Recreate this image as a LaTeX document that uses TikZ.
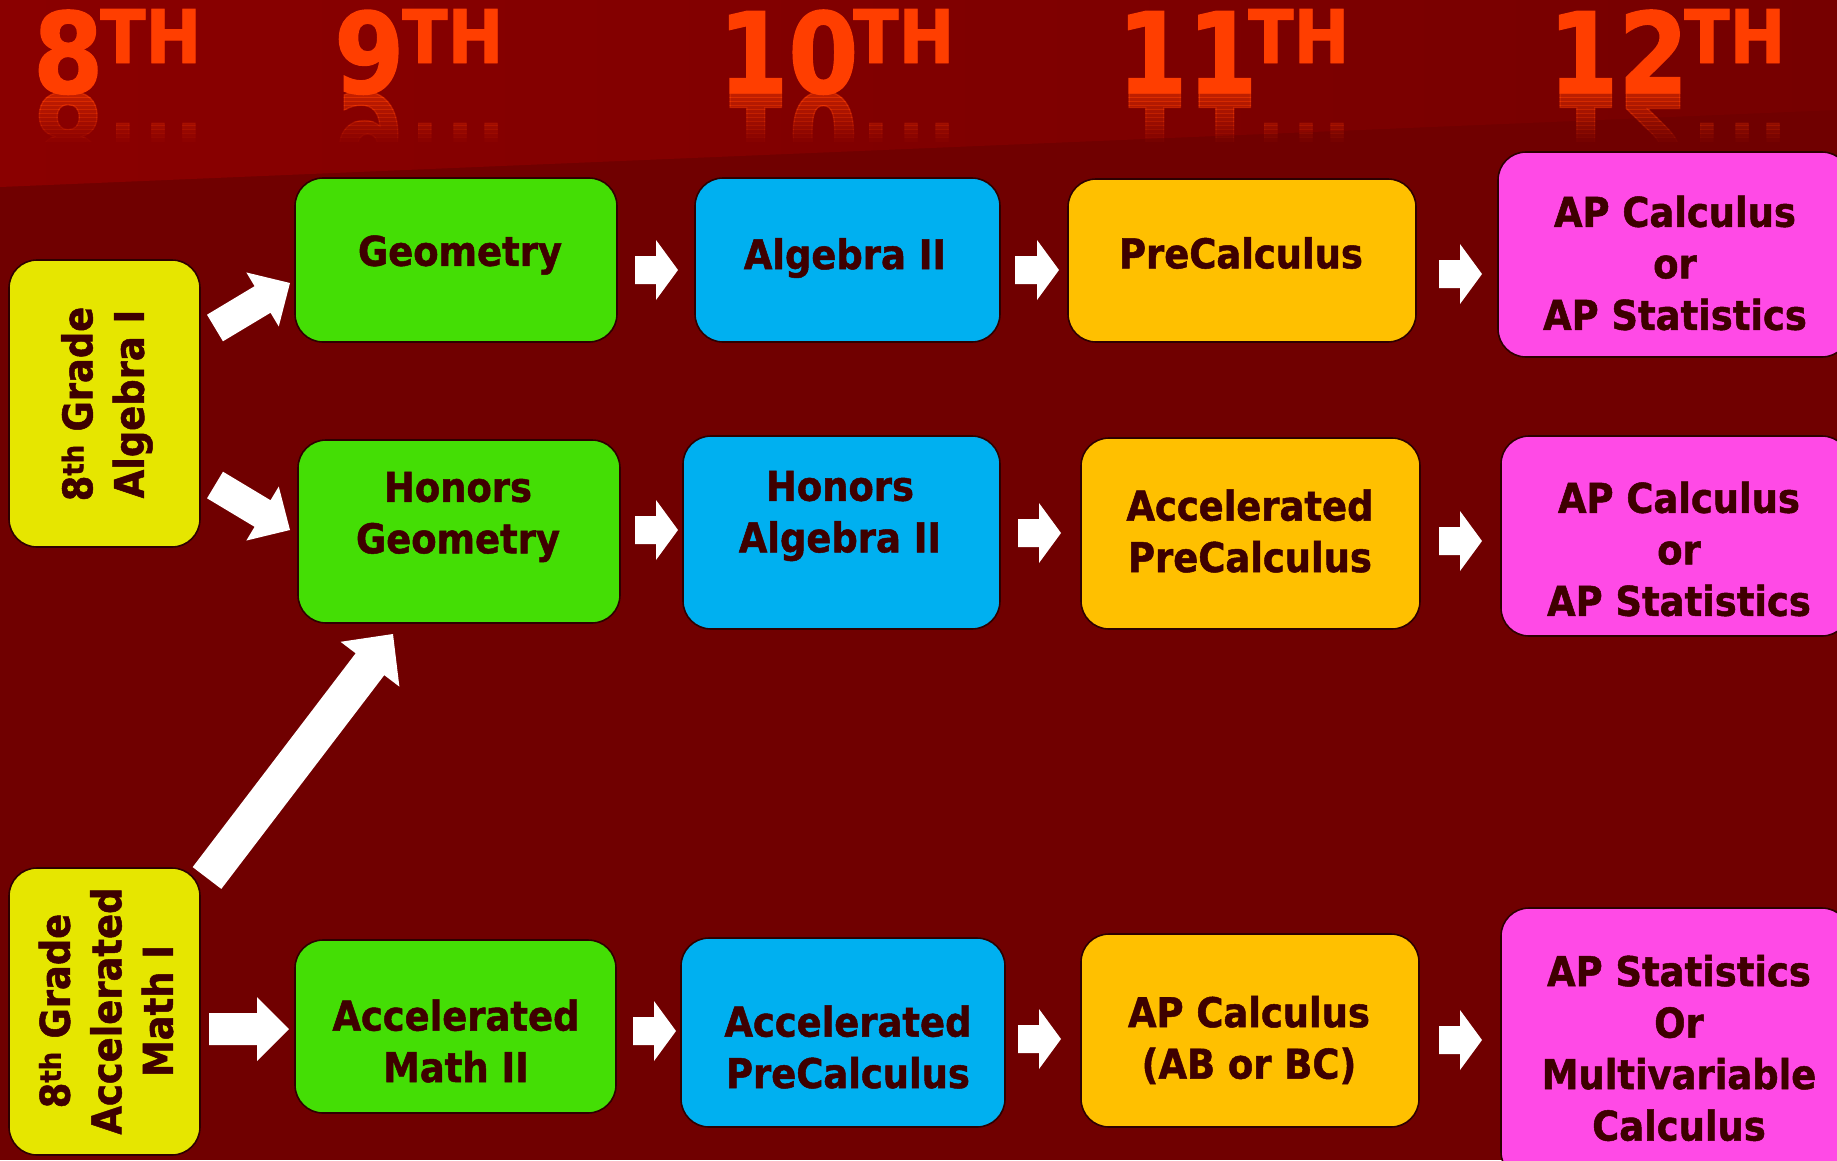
\documentclass[tikz,border=0pt]{standalone}
\usepackage{fontspec}
\setmainfont{DejaVu Sans Condensed}[BoldFont={DejaVu Sans Condensed Bold}, BoldFeatures={FakeBold=1.2}]
\usetikzlibrary{calc}
\definecolor{bgred}{RGB}{112,0,0}
\definecolor{bandL}{RGB}{138,0,0}
\definecolor{bandR}{RGB}{118,0,0}
\definecolor{ctext}{RGB}{62,0,0}
\definecolor{boxline}{RGB}{45,0,0}
\definecolor{cgreen}{RGB}{68,222,5}
\definecolor{cblue}{RGB}{0,176,240}
\definecolor{corange}{RGB}{255,192,0}
\definecolor{cpink}{RGB}{255,74,230}
\definecolor{cyellow}{RGB}{230,230,0}
\definecolor{hdrcol}{RGB}{255,62,0}
\newcommand\blockarrow[5]{%
  \path ($(#2)!#5!(#1)$) coordinate (bah);
  \fill[white] ($(#1)!#3!90:(#2)$) -- ($(bah)!#3!-90:(#1)$) -- ($(bah)!#4!-90:(#1)$)
    -- (#2) -- ($(bah)!#4!90:(#1)$) -- ($(bah)!#3!90:(#1)$) -- ($(#1)!#3!-90:(#2)$) -- cycle;
}
\newcommand\gradehdr[4]{%
  \node[hdr, anchor=base west] (#1) at (#2,93) {#3};
  \node[hdrs, anchor=base west] (#1th) at (#4,63) {TH};
  \foreach \k in {0,...,11}{%
    \pgfmathsetmacro\op{0.5*(1-\k/12)}%
    \begin{scope}
      \clip (#2-20,93+4*\k) rectangle (#4+130,97+4*\k);
      \begin{scope}[shift={(0,93)}, yscale=-1, transform shape]
        \node[hdr, anchor=base west, opacity=\op] at (#2,0) {#3};
        \node[hdrs, anchor=base west, opacity=\op] at (#4,-30) {TH};
      \end{scope}
    \end{scope}
  }%
}
\begin{document}
\begin{tikzpicture}[x=1pt,y=-1pt,
  box/.style={draw=boxline, line width=1.6pt, rounded corners=28pt, inner sep=0pt},
  txt/.style={text=ctext, font=\fontsize{41}{51.5}\selectfont\bfseries, align=center, inner sep=0pt},
  hdr/.style={text=hdrcol, font=\fontsize{112}{112}\selectfont\bfseries, inner sep=0pt},
  hdrs/.style={text=hdrcol, font=\fontsize{74}{74}\selectfont\bfseries, inner sep=0pt}]
\useasboundingbox (0,0) rectangle (1837,1160);
\clip (0,0) rectangle (1837,1160);
\fill[bgred] (0,0) rectangle (1837,1160);
\shade[left color=bandL, right color=bandR] (0,0) -- (1837,0) -- (1837,110) -- (0,187) -- cycle;

% headers
\gradehdr{h8}{33}{8}{100}
\gradehdr{h9}{334}{9}{402}
\gradehdr{h10}{718}{10}{853}
\gradehdr{h11}{1117}{11}{1248}
\gradehdr{h12}{1548}{12}{1684}

% boxes
\node[box, fill=cyellow, minimum width=191pt, minimum height=287pt] (y1) at (104.5,403.5) {};
\node[box, fill=cyellow, minimum width=191pt, minimum height=287pt] (y2) at (104.5,1011.5) {};
\node[box, fill=cgreen, minimum width=322pt, minimum height=164pt] (g1) at (456,260) {};
\node[box, fill=cgreen, minimum width=322pt, minimum height=183pt] (g2) at (459,531.5) {};
\node[box, fill=cgreen, minimum width=321pt, minimum height=173pt] (g3) at (455.5,1026.5) {};
\node[box, fill=cblue, minimum width=305pt, minimum height=164pt] (b1) at (847.5,260) {};
\node[box, fill=cblue, minimum width=317pt, minimum height=193pt] (b2) at (841.5,532.5) {};
\node[box, fill=cblue, minimum width=324pt, minimum height=189pt] (b3) at (843,1032.5) {};
\node[box, fill=corange, minimum width=348pt, minimum height=163pt] (o1) at (1242,260.5) {};
\node[box, fill=corange, minimum width=339pt, minimum height=191pt] (o2) at (1250.5,533.5) {};
\node[box, fill=corange, minimum width=338pt, minimum height=193pt] (o3) at (1250,1030.5) {};
\node[box, fill=cpink, minimum width=352pt, minimum height=205pt] (p1) at (1674,254.5) {};
\node[box, fill=cpink, minimum width=349pt, minimum height=200pt] (p2) at (1675.5,536) {};
\node[box, fill=cpink, minimum width=349pt, minimum height=272pt] (p3) at (1675.5,1044) {};

% texts
\node[txt, rotate=90] (y1t) at (107,404) {8\textsuperscript{th} Grade\\Algebra I};
\node[txt, rotate=90] (y2t) at (106,1011) {8\textsuperscript{th} Grade\\Accelerated\\Math I};
\node[txt] (g1t) at (460,255) {Geometry};
\node[txt] (g2t) at (458,517) {Honors\\Geometry};
\node[txt] (g3t) at (456,1041) {Accelerated\\Math II};
\node[txt] (b1t) at (845,258) {Algebra II};
\node[txt] (b2t) at (840,516) {Honors\\Algebra II};
\node[txt] (b3t) at (848,1047) {Accelerated\\PreCalculus};
\node[txt] (o1t) at (1241,253) {PreCalculus};
\node[txt] (o2t) at (1250,531) {Accelerated\\PreCalculus};
\node[txt] (o3t) at (1249,1040) {AP Calculus\\(AB or BC)};
\node[txt] (p1t) at (1675,263) {AP Calculus\\or\\AP Statistics};
\node[txt] (p2t) at (1679,549) {AP Calculus\\or\\AP Statistics};
\node[txt] (p3t) at (1679,1048) {AP Statistics\\Or\\Multivariable\\Calculus};

% arrow end points
\coordinate (a1s) at (635,270);  \coordinate (a1e) at (678,270);
\coordinate (a2s) at (1015,270); \coordinate (a2e) at (1059,270);
\coordinate (a3s) at (1439,274); \coordinate (a3e) at (1482,274);
\coordinate (a4s) at (635,530);  \coordinate (a4e) at (678,530);
\coordinate (a5s) at (1018,533); \coordinate (a5e) at (1061,533);
\coordinate (a6s) at (1439,541); \coordinate (a6e) at (1482,541);
\coordinate (a7s) at (633,1031); \coordinate (a7e) at (676,1031);
\coordinate (a8s) at (1018,1039); \coordinate (a8e) at (1061,1039);
\coordinate (a9s) at (1439,1040); \coordinate (a9e) at (1482,1040);
\coordinate (d1s) at (215,328);  \coordinate (d1e) at (290,283);
\coordinate (d2s) at (215,485);  \coordinate (d2e) at (290,530);
\coordinate (d3s) at (207,878);  \coordinate (d3e) at (393,634);
\coordinate (h1s) at (209,1029); \coordinate (h1e) at (289,1029);

\foreach \i in {1,...,9}{\blockarrow{a\i s}{a\i e}{14pt}{30pt}{22pt}}
\blockarrow{d1s}{d1e}{15.5pt}{31.5pt}{32pt}
\blockarrow{d2s}{d2e}{15.5pt}{31.5pt}{32pt}
\blockarrow{d3s}{d3e}{18pt}{37pt}{38pt}
\blockarrow{h1s}{h1e}{16pt}{32pt}{32pt}
\end{tikzpicture}
\end{document}
